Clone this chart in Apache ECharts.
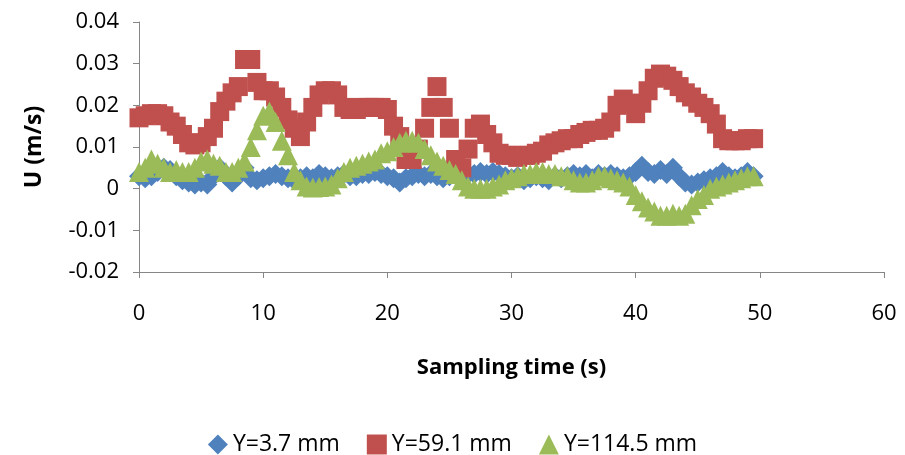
<!DOCTYPE html>
<html>
<head>
<meta charset="utf-8">
<script src="https://cdn.jsdelivr.net/npm/echarts@6/dist/echarts.min.js"></script>
<style>html,body{margin:0;padding:0;background:#fff}#c{width:905px;height:455px}</style>
</head>
<body>
<div id="c"></div>
<script>
// sampling times (s)
const times = [];
for (let i = 0; i < 100; i++) times.push(i * 0.5);

const seriesNames = ['Y=3.7 mm', 'Y=59.1 mm', 'Y=114.5 mm'];

const uY37 = [
0.003,0.0025,0.003,0.004,0.005,0.0045,0.003,0.002,0.0015,0.001,
0.0015,0.001,0.003,0.005,0.003,0.0015,0.003,0.005,0.0025,0.002,
0.0025,0.003,0.0035,0.003,0.0025,0.002,0.0025,0.003,0.0025,0.0035,
0.003,0.0025,0.003,0.0035,0.003,0.003,0.0035,0.0035,0.004,0.0035,
0.003,0.0025,0.0015,0.0025,0.003,0.0035,0.003,0.0035,0.003,0.0025,
0.003,0.0035,0.004,0.0035,0.0035,0.004,0.0035,0.004,0.0035,0.003,
0.0025,0.003,0.002,0.0025,0.003,0.0025,0.002,0.003,0.0025,0.003,
0.0035,0.003,0.0035,0.0025,0.0035,0.003,0.0035,0.003,0.0025,0.003,
0.004,0.0055,0.004,0.0035,0.0045,0.0035,0.005,0.003,0.0015,0.001,
0.0015,0.002,0.0025,0.003,0.004,0.003,0.0025,0.003,0.004,0.003
];

const uY591 = [
0.017,0.0175,0.018,0.018,0.0175,0.016,0.015,0.013,0.011,0.0105,
0.011,0.0125,0.0145,0.0185,0.021,0.023,0.0245,0.031,0.031,0.0255,
0.0235,0.0235,0.022,0.0195,0.0165,0.0145,0.0125,0.016,0.0195,0.0225,
0.0235,0.0235,0.0225,0.0195,0.019,0.019,0.0195,0.0195,0.0195,0.0195,
0.019,0.015,0.0125,0.007,0.007,0.0095,0.0145,0.0195,0.0245,0.0195,
0.0145,0.007,0.005,0.0095,0.0145,0.0155,0.013,0.011,0.0085,0.008,
0.008,0.0075,0.008,0.008,0.0085,0.009,0.0105,0.011,0.0115,0.012,
0.012,0.013,0.0135,0.014,0.014,0.0145,0.016,0.02,0.0215,0.0205,
0.018,0.0205,0.0235,0.0265,0.0275,0.027,0.026,0.0245,0.023,0.022,
0.0205,0.0195,0.018,0.0155,0.012,0.0115,0.0115,0.0115,0.012,0.012
];

const uY1145 = [
0.004,0.005,0.007,0.006,0.005,0.004,0.0045,0.004,0.004,0.005,
0.0065,0.007,0.006,0.0055,0.004,0.004,0.005,0.0065,0.01,0.014,
0.0175,0.0185,0.016,0.0115,0.008,0.004,0.002,0.0005,0.0003,0.0004,
0.0005,0.001,0.0025,0.004,0.005,0.0055,0.006,0.0065,0.007,0.0085,
0.009,0.01,0.011,0.0115,0.0115,0.011,0.0095,0.008,0.0065,0.0055,
0.0045,0.0035,0.002,0.0005,0,0,0,0.0005,0.001,0.002,
0.0025,0.003,0.0035,0.0035,0.004,0.004,0.0035,0.0035,0.003,0.003,
0.002,0.0015,0.0015,0.002,0.003,0.003,0.0025,0.002,0.0015,0.0005,
-0.0015,-0.003,-0.0045,-0.0055,-0.0065,-0.0065,-0.006,-0.0065,-0.006,-0.004,
-0.0025,-0.0015,0,0.0005,0.001,0.0015,0.002,0.0025,0.003,0.003
];

const xTicks = [0, 10, 20, 30, 40, 50, 60];
const yTicks = [-0.02, -0.01, 0, 0.01, 0.02, 0.03, 0.04];

const pair = arr => arr.map((v, i) => [times[i], v]);

const FONT = '"Open Sans", "Liberation Sans", sans-serif';
const axisColor = '#868686';

const chart = echarts.init(document.getElementById('c'), null, {renderer: 'canvas'});
chart.setOption({
  animation: false,
  backgroundColor: '#fff',
  grid: {left: 139, right: 21, top: 22, bottom: 183, containLabel: false},
  xAxis: {
    type: 'value', min: xTicks[0], max: xTicks[xTicks.length - 1], interval: 10,
    name: 'Sampling time (s)', nameLocation: 'middle', nameGap: 85,
    nameTextStyle: {fontFamily: FONT, fontSize: 22, fontWeight: 'bold', color: '#000'},
    axisLine: {onZero: false, lineStyle: {color: axisColor, width: 1}},
    axisTick: {show: true, length: 6, inside: false, lineStyle: {color: axisColor}},
    axisLabel: {fontFamily: FONT, fontSize: 22, color: '#000', margin: 31},
    splitLine: {show: false}
  },
  yAxis: {
    type: 'value', min: yTicks[0], max: yTicks[yTicks.length - 1], interval: 0.01,
    name: 'U (m/s)', nameLocation: 'middle', nameGap: 93, nameRotate: 90,
    nameTextStyle: {fontFamily: FONT, fontSize: 23, fontWeight: 'bold', color: '#000'},
    axisLine: {show: true, lineStyle: {color: axisColor, width: 1}},
    axisTick: {show: true, length: 6, inside: false, lineStyle: {color: axisColor}},
    axisLabel: {fontFamily: FONT, fontSize: 22, color: '#000', margin: 20,
      formatter: v => (Math.abs(v) < 1e-9 ? '0' : String(Math.round(v * 100) / 100))},
    splitLine: {show: false}
  },
  legend: {
    top: 428, left: 'center', itemGap: 27, itemWidth: 20, itemHeight: 20,
    textStyle: {fontFamily: FONT, fontSize: 23, color: '#000'},
    data: [
      {name: seriesNames[0], icon: 'diamond'},
      {name: seriesNames[1], icon: 'rect'},
      {name: seriesNames[2], icon: 'triangle'}
    ]
  },
  series: [
    {name: seriesNames[0], type: 'scatter', symbol: 'diamond', symbolSize: 20,
      itemStyle: {color: '#4F81BD', opacity: 1}, data: pair(uY37)},
    {name: seriesNames[1], type: 'scatter', symbol: 'rect', symbolSize: 19,
      itemStyle: {color: '#C0504D', opacity: 1}, data: pair(uY591)},
    {name: seriesNames[2], type: 'scatter', symbol: 'triangle', symbolSize: 20,
      itemStyle: {color: '#9BBB59', opacity: 1}, data: pair(uY1145)}
  ]
});
</script>
</body>
</html>
